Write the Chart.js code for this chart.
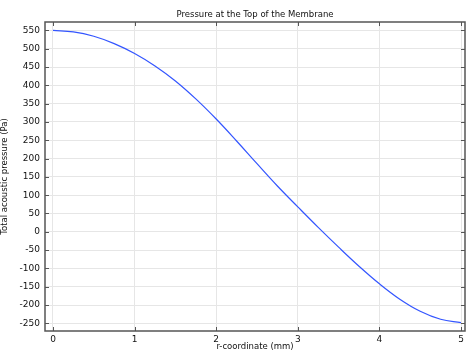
<!DOCTYPE html>
<html>
<head>
<meta charset="utf-8">
<script src="https://cdn.jsdelivr.net/npm/chart.js@4/dist/chart.umd.min.js"></script>
<style>
  body { margin: 0; background: #fff; }
  canvas { display: block; }
</style>
</head>
<body>
<canvas id="grafico" width="474" height="352"></canvas>
<script>
// r-coordinate (mm) and pressure (Pa)
const rCoord = [0, 0.25, 0.5, 0.75, 1, 1.25, 1.5, 1.75, 2, 2.25, 2.5, 2.75, 3, 3.25, 3.5, 3.75, 4, 4.25, 4.5, 4.75, 5];
const pressure = [550, 546, 534, 514, 487, 453, 412, 363, 308, 248, 186, 125, 68, 12, -42, -94, -142, -184, -217, -239, -248];

const xTicks = [0, 1, 2, 3, 4, 5];
const yTicks = [-250, -200, -150, -100, -50, 0, 50, 100, 150, 200, 250, 300, 350, 400, 450, 500, 550];

const titulo = 'Pressure at the Top of the Membrane';

const fonte = { family: 'DejaVu Sans', size: 9, weight: 'normal' };
const fonteTitulo = { family: 'DejaVu Sans', size: 8.5, weight: 'normal' };

// frame + inward tick marks on all four sides, title centred over the plot
const moldura = {
	id: 'moldura',
	afterDraw(chart) {
		const ctx = chart.ctx;
		const a = chart.chartArea;
		const x = chart.scales.x;
		const y = chart.scales.y;
		ctx.save();
		ctx.strokeStyle = '#555';
		ctx.lineWidth = 1;
		ctx.beginPath();
		xTicks.forEach(v => {
			const px = Math.round(x.getPixelForValue(v)) + 0.5;
			ctx.moveTo(px, a.bottom); ctx.lineTo(px, a.bottom - 4);
			ctx.moveTo(px, a.top); ctx.lineTo(px, a.top + 4);
		});
		yTicks.forEach(v => {
			const py = Math.round(y.getPixelForValue(v)) + 0.5;
			ctx.moveTo(a.left, py); ctx.lineTo(a.left + 4, py);
			ctx.moveTo(a.right, py); ctx.lineTo(a.right - 4, py);
		});
		ctx.stroke();
		ctx.lineWidth = 1.5;
		ctx.strokeRect(a.left, a.top, a.right - a.left, a.bottom - a.top);

		ctx.fillStyle = '#111';
		ctx.font = '8.5px "DejaVu Sans"';
		ctx.textAlign = 'center';
		ctx.textBaseline = 'middle';
		ctx.fillText(titulo, (a.left + a.right) / 2, 14.5);
		ctx.restore();
	}
};

const ctx = document.getElementById('grafico').getContext('2d');
let myChart = new Chart(ctx, {
	type: 'line',
	data: {
		datasets: [{
			data: rCoord.map((r, i) => ({ x: r, y: pressure[i] })),
			borderColor: 'rgb(51, 85, 255)',
			borderWidth: 1.2,
			pointRadius: 0,
			tension: 0.4,
			fill: false
		}]
	},
	options: {
		responsive: false,
		devicePixelRatio: 1,
		animation: false,
		layout: { padding: { left: 0, right: 9, top: 22, bottom: 0 } },
		plugins: {
			legend: { display: false },
			tooltip: { enabled: false },
			title: { display: false }
		},
		scales: {
			x: {
				type: 'linear',
				min: -0.098,
				max: 5.049,
				afterBuildTicks: s => { s.ticks = xTicks.map(v => ({ value: v })); },
				afterFit: s => { s.height = 21; },
				grid: { color: '#e6e6e6', drawTicks: false },
				border: { display: false },
				ticks: { color: '#111', font: fonte, padding: 3, maxRotation: 0 },
				title: {
					display: true,
					text: 'r-coordinate (mm)',
					color: '#111',
					font: fonteTitulo,
					padding: 0
				}
			},
			y: {
				type: 'linear',
				min: -271,
				max: 573,
				afterBuildTicks: s => { s.ticks = yTicks.map(v => ({ value: v })); },
				afterFit: s => { s.width = 45; },
				grid: { color: '#e6e6e6', drawTicks: false },
				border: { display: false },
				ticks: { color: '#111', font: fonte, padding: 5 },
				title: {
					display: true,
					text: 'Total acoustic pressure (Pa)',
					color: '#111',
					font: fonteTitulo,
					padding: 0
				}
			}
		}
	},
	plugins: [moldura]
});
</script>
</body>
</html>
